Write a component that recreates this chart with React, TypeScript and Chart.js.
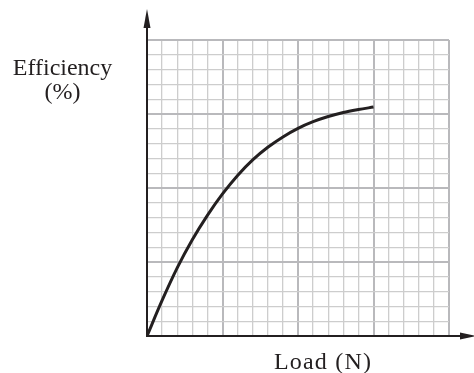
import React, { useEffect, useRef } from "react";
import { Chart, registerables } from "chart.js";

Chart.register(...registerables);

const loadValues = [0, 1, 2, 3, 4, 5, 6, 7, 8, 9, 10, 11, 12, 13, 14, 15];
const efficiencyValues = [0, 2.4, 4.6, 6.5, 8.15, 9.6, 10.85, 11.9, 12.75, 13.45, 14.03, 14.48, 14.83, 15.1, 15.3, 15.47];
const xRange = [0, 20];
const yRange = [0, 20];
const yAxisLabel = ["Efficiency", "(%)"];
const xAxisLabel = "Load (N)";

const INK = "#231f20";

const decorations = {
  id: "decorations",
  afterDraw(chart: any) {
    const ctx = chart.ctx;
    const xs = chart.scales.x;
    const ys = chart.scales.y;
    const ox = Math.round(xs.getPixelForValue(0));
    const oy = Math.round(ys.getPixelForValue(0));
    ctx.save();
    ctx.strokeStyle = INK;
    ctx.fillStyle = INK;
    ctx.lineWidth = 2;
    // y axis
    ctx.beginPath();
    ctx.moveTo(ox, oy + 1);
    ctx.lineTo(ox, 22);
    ctx.stroke();
    ctx.beginPath();
    ctx.moveTo(ox, 9);
    ctx.lineTo(ox - 3.5, 28);
    ctx.lineTo(ox + 3.5, 28);
    ctx.closePath();
    ctx.fill();
    // x axis
    ctx.beginPath();
    ctx.moveTo(ox - 1, oy);
    ctx.lineTo(464, oy);
    ctx.stroke();
    ctx.beginPath();
    ctx.moveTo(477, oy);
    ctx.lineTo(460, oy - 3.5);
    ctx.lineTo(460, oy + 3.5);
    ctx.closePath();
    ctx.fill();
    // labels
    ctx.font = '24px "Liberation Serif"';
    ctx.textAlign = "center";
    ctx.textBaseline = "alphabetic";
    ctx.fillText(yAxisLabel[0], 62.5, 75);
    ctx.fillText(yAxisLabel[1], 62.5, 99);
    (ctx as any).letterSpacing = "1.2px";
    ctx.fillText(xAxisLabel, 323, 369);
    ctx.restore();
  },
};

const gridColor = (c: any) => (c.tick && c.tick.value % 5 === 0 ? "#b9b9bc" : "#cdcdcd");
const gridWidth = (c: any) => (c.tick && c.tick.value % 5 === 0 ? 2 : 1.3);

export default function App() {
  const ref = useRef<HTMLCanvasElement>(null);
  useEffect(() => {
    if (!ref.current) return;
    const chart = new Chart(ref.current, {
      type: "line",
      data: {
        datasets: [
          {
            data: loadValues.map((x, i) => ({ x, y: efficiencyValues[i] })),
            borderColor: INK,
            borderWidth: 3,
            pointRadius: 0,
            fill: false,
            cubicInterpolationMode: "monotone",
          },
        ],
      },
      options: {
        responsive: false,
        animation: false,
        events: [],
        layout: { padding: { left: 147, top: 40, right: 25, bottom: 37 } },
        plugins: { legend: { display: false }, tooltip: { enabled: false } },
        scales: {
          x: {
            type: "linear",
            min: xRange[0],
            max: xRange[1],
            ticks: { display: false, stepSize: 1, autoSkip: false, maxTicksLimit: 100 },
            grid: { color: gridColor, lineWidth: gridWidth, drawTicks: false },
            border: { display: false },
          },
          y: {
            type: "linear",
            min: yRange[0],
            max: yRange[1],
            ticks: { display: false, stepSize: 1, autoSkip: false, maxTicksLimit: 100 },
            grid: { color: gridColor, lineWidth: gridWidth, drawTicks: false },
            border: { display: false },
          },
        },
      },
      plugins: [decorations],
    });
    return () => chart.destroy();
  }, []);
  return (
    <div style={{ position: "absolute", left: 0, top: 0, width: 474, height: 373, background: "#fff" }}>
      <canvas ref={ref} width={474} height={373} />
    </div>
  );
}
